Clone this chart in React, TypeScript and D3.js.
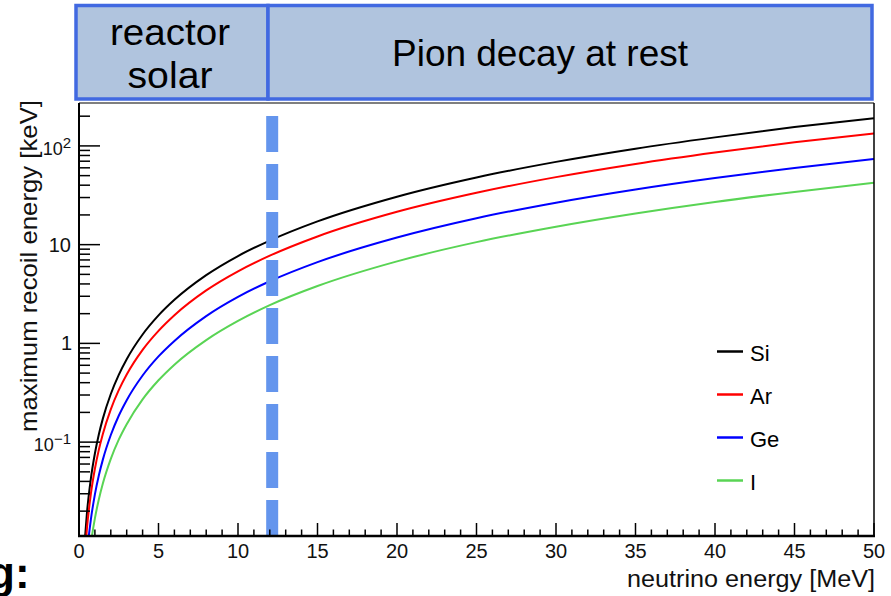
import React from "react";
import * as d3 from "d3";

// neutrino energy grid [MeV]
const energies = [0.35, 0.5, 0.75, 1, 1.25, 1.5, 2, 2.5, 3, 4, 5, 6, 8, 10, 12, 15, 20, 25, 30, 35, 40, 45, 50];

// maximum recoil energy [keV]
const si = [0.0094, 0.0192, 0.0432, 0.0767, 0.12, 0.173, 0.307, 0.48, 0.691, 1.23, 1.92, 2.76, 4.91, 7.67, 11.0, 17.2, 30.6, 47.9, 68.9, 93.8, 122, 155, 191];
const ar = [0.0066, 0.0134, 0.0302, 0.0537, 0.084, 0.121, 0.215, 0.336, 0.484, 0.86, 1.34, 1.93, 3.44, 5.37, 7.73, 12.1, 21.5, 33.5, 48.3, 65.7, 85.8, 109, 134];
const ge = [0.0036, 0.0074, 0.0166, 0.0296, 0.0462, 0.0665, 0.118, 0.185, 0.266, 0.473, 0.739, 1.06, 1.89, 2.96, 4.26, 6.65, 11.8, 18.5, 26.6, 36.2, 47.3, 59.8, 73.8];
const iod = [0.0021, 0.0042, 0.0095, 0.0169, 0.0264, 0.0381, 0.0677, 0.106, 0.152, 0.271, 0.423, 0.609, 1.08, 1.69, 2.44, 3.81, 6.77, 10.6, 15.2, 20.7, 27.1, 34.2, 42.3];

const series = [
  { name: "Si", values: si, color: "#000000" },
  { name: "Ar", values: ar, color: "#ff0000" },
  { name: "Ge", values: ge, color: "#0000ff" },
  { name: "I", values: iod, color: "#59d454" },
];

const xTicks = [0, 5, 10, 15, 20, 25, 30, 35, 40, 45, 50];
const yDecades = [0.1, 1, 10, 100];
const yLabels = [
  { v: 0.1, base: "10", sup: "\u22121" },
  { v: 1, base: "1", sup: "" },
  { v: 10, base: "10", sup: "" },
  { v: 100, base: "10", sup: "2" },
];
const cutEnergy = 12.15;

const font = "'Liberation Sans', Arial, Helvetica, sans-serif";

export default function App() {
  const left = 79, right = 874, top = 103, bottom = 536;

  const x = d3.scaleLinear().domain([0, 50]).range([left, right]);
  const y = d3.scaleLog().domain([0.0112, 272]).range([bottom, top]);

  const line = d3
    .line<number>()
    .x((_, i) => x(energies[i]))
    .y((d) => y(d))
    .curve(d3.curveMonotoneX);

  const xMinor = d3.range(0, 51, 1).filter((v) => v % 5 !== 0);
  const yMinor: number[] = [];
  [0.01, 0.1, 1, 10, 100].forEach((dec) => {
    for (let k = 2; k <= 9; k++) {
      const v = dec * k;
      if (v >= 0.0112 && v <= 272) yMinor.push(v);
    }
  });

  return (
    <svg
      width={891}
      height={596}
      style={{ position: "absolute", left: 0, top: 0, background: "#fff" }}
      fontFamily={font}
    >
      <defs>
        <clipPath id="plot">
          <rect x={left} y={top} width={right - left} height={bottom - top} />
        </clipPath>
      </defs>

      {/* header boxes */}
      <rect x={76} y={5.5} width={192} height={93.5} fill="#b0c4de" stroke="#4169e1" strokeWidth={3.5} />
      <rect x={268} y={5.5} width={604} height={93.5} fill="#b0c4de" stroke="#4169e1" strokeWidth={3.5} />
      <text x={170} y={45} fontSize={37} textAnchor="middle" textLength={120} lengthAdjust="spacingAndGlyphs">reactor</text>
      <text x={170} y={88} fontSize={37} textAnchor="middle" textLength={85} lengthAdjust="spacingAndGlyphs">solar</text>
      <text x={540} y={66} fontSize={36} textAnchor="middle" textLength={296} lengthAdjust="spacingAndGlyphs">Pion decay at rest</text>

      {/* curves */}
      <g clipPath="url(#plot)">
        {series.map((s) => (
          <path key={s.name} d={line(s.values) || ""} fill="none" stroke={s.color} strokeWidth={2} />
        ))}
      </g>

      {/* cut line */}
      <line
        x1={x(cutEnergy)}
        x2={x(cutEnergy)}
        y1={116}
        y2={bottom}
        stroke="#6495ed"
        strokeWidth={12}
        strokeDasharray="36 12"
      />

      {/* frame */}
      <line x1={left} x2={right} y1={top} y2={top} stroke="#000" strokeWidth={1} />
      <line x1={right} x2={right} y1={top} y2={bottom} stroke="#000" strokeWidth={1.5} />
      <line x1={left} x2={left} y1={top} y2={bottom + 1} stroke="#000" strokeWidth={2} />
      <line x1={left - 1} x2={right + 1} y1={bottom} y2={bottom} stroke="#000" strokeWidth={2.5} />

      {/* x ticks */}
      {xTicks.map((t) => (
        <g key={"xt" + t}>
          <line x1={x(t)} x2={x(t)} y1={bottom} y2={bottom - 13} stroke="#000" strokeWidth={1.5} />
          <text x={x(t)} y={558} fontSize={20} textAnchor="middle" fill="#111">{t}</text>
        </g>
      ))}
      {xMinor.map((t) => (
        <line key={"xm" + t} x1={x(t)} x2={x(t)} y1={bottom} y2={bottom - 6.5} stroke="#000" strokeWidth={1.5} />
      ))}

      {/* y ticks */}
      {yDecades.map((t) => (
        <line key={"yt" + t} x1={left} x2={left + 21} y1={y(t)} y2={y(t)} stroke="#000" strokeWidth={1.5} />
      ))}
      {yMinor.map((t, i) => (
        <line key={"ym" + i} x1={left} x2={left + 11} y1={y(t)} y2={y(t)} stroke="#000" strokeWidth={1.5} />
      ))}
      {yLabels.map((l) =>
        l.sup ? (
          <text key={"yl" + l.v} x={71} y={y(l.v) + 9} fontSize={18} textAnchor="end" fill="#111">
            {l.base}
            <tspan fontSize={15} dy={-7}>{l.sup}</tspan>
          </text>
        ) : (
          <text key={"yl" + l.v} x={l.base === "1" ? 72 : 71} y={y(l.v) + 7} fontSize={20} textAnchor="end" fill="#111">
            {l.base}
          </text>
        )
      )}

      {/* axis titles */}
      <text x={875} y={587} fontSize={23} textAnchor="end" textLength={248} lengthAdjust="spacingAndGlyphs" fill="#111">
        neutrino energy [MeV]
      </text>
      <text
        transform="translate(37,266) rotate(-90)"
        fontSize={24}
        textAnchor="middle"
        textLength={332}
        lengthAdjust="spacingAndGlyphs"
        fill="#111"
      >
        maximum recoil energy [keV]
      </text>

      {/* legend */}
      {series.map((s, i) => {
        const ly = 351.5 + i * 43;
        return (
          <g key={"lg" + s.name}>
            <line x1={717} x2={743} y1={ly} y2={ly} stroke={s.color} strokeWidth={2.5} />
            <text x={750} y={ly + 9} fontSize={22} fill="#000">{s.name}</text>
          </g>
        );
      })}

      {/* cropped slide text */}
      <text x={-12} y={588} fontSize={44} fontWeight="bold" fontFamily={font}>g:</text>
    </svg>
  );
}
